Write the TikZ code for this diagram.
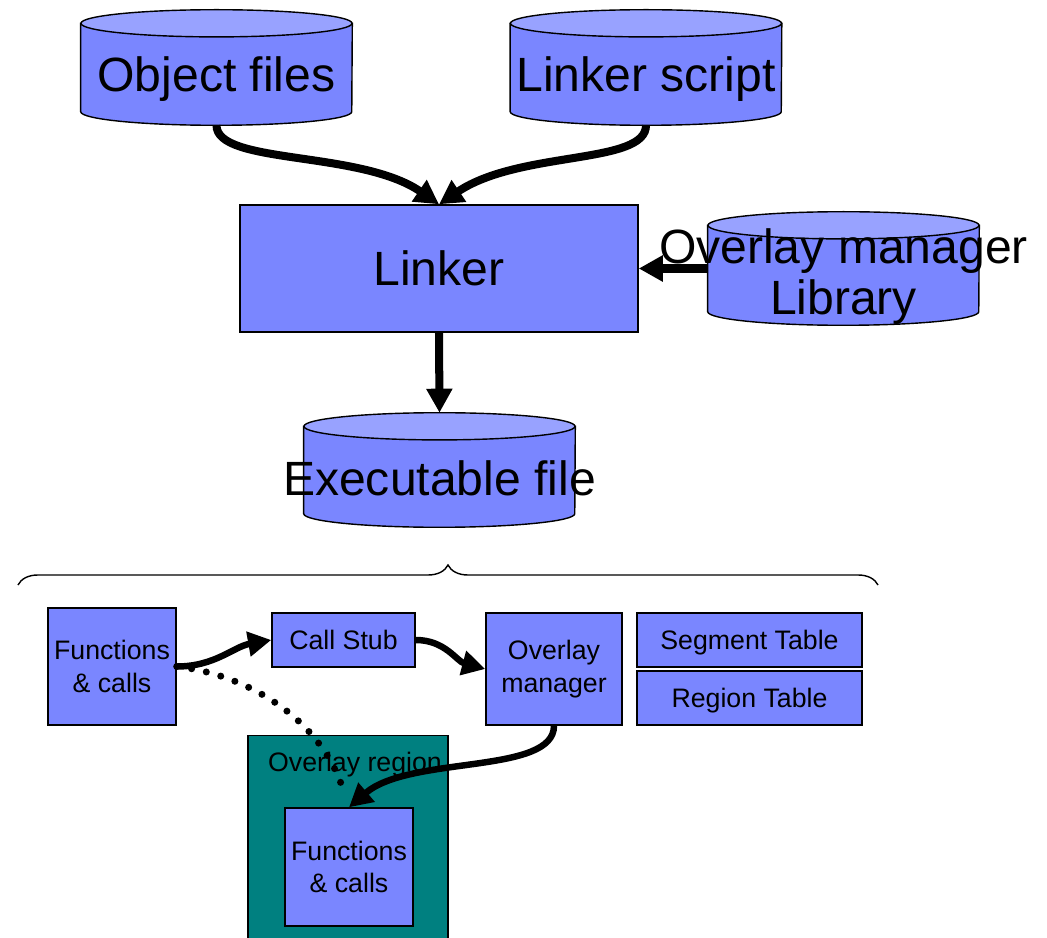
\documentclass[tikz,border=0pt]{standalone}
\usepackage{fontspec}
\setmainfont{Liberation Sans}
\usepackage{tikz}
\usetikzlibrary{positioning}
\usetikzlibrary{arrows.meta,backgrounds,decorations.pathreplacing}

\definecolor{boxblue}{RGB}{122,134,255}
\definecolor{boxtop}{RGB}{152,162,255}
\definecolor{regteal}{RGB}{0,128,128}

\tikzset{
  bigtxt/.style={font=\fontsize{34.2}{36}\selectfont, align=center},
  smalltxt/.style={font=\fontsize{19}{23}\selectfont, align=center},
  box/.style={draw, fill=boxblue, line width=1pt, inner sep=0pt},
  drum/.style={minimum width=6.775cm, inner sep=0pt},
  flow/.style={->, line width=5.7pt, >={Triangle[length=0.6cm,width=0.62cm]}},
  call/.style={->, line width=4.6pt, >={Triangle[length=0.58cm,width=0.6cm]}},
  dots/.style={line width=5pt, line cap=round, dash pattern=on 0pt off 10.7pt}
}

\begin{document}
\begin{tikzpicture}[x=0.025cm,y=-0.025cm]
  \useasboundingbox (0,0) rectangle (1047,938);
  % linker flow
  \node[drum, minimum height=2.875cm, label={[bigtxt,yshift=-8.5pt]center:Object files}] (obj) at (216.5,67.5) {};
  \node[drum, minimum height=2.875cm, label={[bigtxt,yshift=-8.5pt]center:Linker script}] (scr) at (646,67.5) {};
  \node[box, bigtxt, minimum width=9.95cm, minimum height=3.175cm] (lnk) at (439,268.5) {Linker};
  \node[drum, minimum height=2.825cm, label={[bigtxt,yshift=-5.7pt]center:Overlay manager\\Library}] (oml) at (843.5,268.5) {};
  \node[drum, minimum height=2.85cm, label={[bigtxt,yshift=-5.7pt]center:Executable file}] (exe) at (439.5,470) {};
  \begin{scope}[on background layer]
    \foreach \c in {obj,scr,oml,exe}{
      \filldraw[fill=boxblue, line width=1pt] ([yshift=-0.34cm]\c.north west) -- ([yshift=0.34cm]\c.south west)
        arc[start angle=180, end angle=360, x radius=3.3875cm, y radius=0.34cm] -- ([yshift=-0.34cm]\c.north east) -- cycle;
      \filldraw[fill=boxtop, line width=1pt] ([yshift=-0.34cm]\c.north) ellipse[x radius=3.3875cm, y radius=0.34cm];
    }
  \end{scope}
\draw[flow] (obj.south) .. controls (216.5,165) and (360,150) .. (lnk.north);
\draw[flow] (scr.south) .. controls (646,165) and (520,150) .. (lnk.north);
\draw[flow] (oml.west) -- (lnk.east);
\draw[flow] (lnk.south) -- (exe.north);
  % what is in the executable
  \draw[decorate, decoration={brace, amplitude=0.5cm}, line width=1pt] (18,585) -- (878,585);
  \node[box, smalltxt, minimum width=3.2cm, minimum height=2.925cm] (fn) at (112,666.5) {Functions\\\& calls};
  \node[box, smalltxt, minimum width=3.575cm, minimum height=1.35cm] (stub) at (343.5,640) {Call Stub};
  \node[box, smalltxt, minimum width=3.4cm, minimum height=2.8cm] (om) at (554,669) {Overlay\\manager};
  \node[box, smalltxt, text depth=0pt, minimum width=5.625cm, minimum height=1.35cm] (seg) at (749.5,640) {Segment Table};
  \node[box, smalltxt, text depth=0pt, minimum width=5.625cm, minimum height=1.35cm] (rgn) at (749.5,698) {Region Table};
  \node[box, fill=regteal, minimum width=5cm, minimum height=5.4cm, anchor=north] (reg) at (348,735) {};
  \node[smalltxt] (reglbl) at (355,765) {Overlay region};
  \node[box, smalltxt, minimum width=3.2cm, minimum height=2.95cm] (inner) at (349,867) {Functions\\\& calls};
\draw[dots, shorten >=0.5cm] (fn.east) .. controls (250,675) and (320,720) .. (inner.north);
\draw[call] (fn.east) to[out=0, in=190] (stub.west);
\draw[call] (stub.east) to[out=0, in=165] (om.west);
\draw[call] (om.south) .. controls (554,775) and (410,755) .. (inner.north);
\end{tikzpicture}
\end{document}
